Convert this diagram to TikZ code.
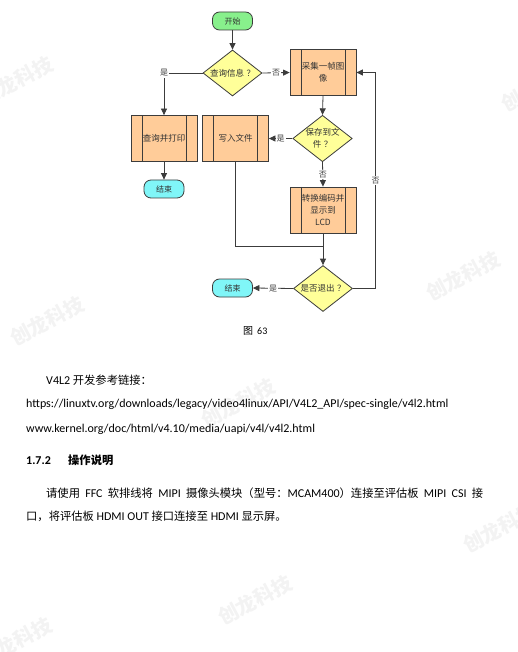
\documentclass[tikz,border=0pt]{standalone}
\usepackage{fontspec}
\setmainfont{Carlito}
\newfontfamily\cjk[Scale=0.94]{Noto Sans CJK SC}
\newfontfamily\cjkf{Noto Sans CJK SC}
\usetikzlibrary{shapes.geometric,arrows.meta}
\definecolor{lnc}{HTML}{3C3C3C}
\definecolor{gfill}{HTML}{88F08C}
\definecolor{cfill}{HTML}{80F6F8}
\definecolor{ofill}{HTML}{FFCC99}
\definecolor{yfill}{HTML}{FFFF99}
\definecolor{wmc}{HTML}{F3F3F3}
\newcommand{\qm}{\hspace{2.5pt}？}
\tikzset{
 term/.style={rectangle, rounded corners=7pt, draw=lnc, line width=0.8pt, minimum width=40pt, minimum height=18pt, inner sep=0pt, font=\cjkf\fontsize{8}{9}\selectfont, text=black!80},
 dec/.style={diamond, draw=lnc, line width=0.8pt, fill=yfill, minimum width=59pt, minimum height=46pt, inner sep=0pt, aspect=1.28, align=center, font=\cjkf\fontsize{8.5}{12}\selectfont, text=black!80},
 proc/.style={rectangle, draw=lnc, line width=0.8pt, fill=ofill, minimum width=66pt, minimum height=46pt, inner sep=0pt, align=center, font=\cjkf\fontsize{8.5}{12}\selectfont, text=black!80,
   path picture={\draw[lnc,line width=0.8pt] ([xshift=11pt]path picture bounding box.north west) -- ([xshift=11pt]path picture bounding box.south west) ([xshift=-11pt]path picture bounding box.north east) -- ([xshift=-11pt]path picture bounding box.south east);}},
 line/.style={draw=lnc, line width=0.8pt},
 arr/.style={line, -{Triangle[length=6.5pt,width=6pt]}},
 lab/.style={fill=white, inner sep=1pt, font=\cjkf\fontsize{8}{9}\selectfont, text=black!75},
 txt/.style={anchor=base west, inner sep=0pt, font=\fontsize{12}{14}\selectfont},
 wm/.style={font=\cjkf\bfseries\fontsize{20}{20}\selectfont, text=wmc, rotate=28, inner sep=0pt},
}
\begin{document}
\begin{tikzpicture}[x=1pt,y=-1pt]
\fill[white] (0,0) rectangle (518,652);
\useasboundingbox (0,0) rectangle (518,652);
% watermarks
\node[wm] (w1) at (16,81) {创龙科技};
\node[wm] (w2) at (538,87) {创龙科技};
\node[wm] (w3) at (47,321) {创龙科技};
\node[wm] (w4) at (463,276) {创龙科技};
\node[wm] (w5) at (238,403) {创龙科技};
\node[wm] (w6) at (500,528) {创龙科技};
\node[wm] (w7) at (255,600) {创龙科技};
\node[wm] (w8) at (15,642) {创龙科技};
% flowchart
\node[term, fill=gfill] (start) at (232.5,21) {开始};
\node[dec] (q1) at (232.5,73) {查询信息\qm};
\node[proc] (cap) at (323,72.5) {采集一帧图\\像};
\node[proc] (print) at (164,138.5) {查询并打印};
\node[proc] (write) at (235.5,138.5) {写入文件};
\node[dec] (q2) at (322.5,138.5) {保存到文\\件\qm};
\node[term, fill=cfill] (end1) at (164,189) {结束};
\node[proc] (lcd) at (323,210) {转换编码并\\显示到\\LCD};
\node[dec] (q3) at (323,288.5) {是否退出\qm};
\node[term, fill=cfill] (end2) at (232.5,288) {结束};
\coordinate (jn) at (323,246);
\coordinate (rt) at (375.7,288.5);
\draw[arr] (start) -- (q1);
\draw[arr] (q1.east) -- node[lab]{否} (cap.west);
\draw[arr] (q1.west) -| node[lab]{是} (print.north);
\draw[arr] (cap.south) -- (q2.north);
\draw[arr] (q2.west) -- node[lab]{是} (write.east);
\draw[arr] (print.south) -- (end1.north);
\draw[arr] (q2.south) -- node[lab]{否} (lcd.north);
\draw[line] (write.south) |- (jn);
\draw[arr] (lcd.south) -- (q3.north);
\draw[arr] (q3.west) -- node[lab]{是} (end2.east);
\draw[arr] (q3.east) -- (rt) |- node[lab,pos=0.25]{否} (cap.east);
% caption
\node[anchor=base west, inner sep=0pt, font=\fontsize{10}{12}\selectfont] (cap63) at (243,334) {{\cjkf 图}\hspace{4pt}63};
% body text
\node[txt] (t1) at (46,384) {V4L2 {\cjk 开发参考链接：}};
\node[txt] (t2) at (26,407) {https://linuxtv.org/downloads/legacy/video4linux/API/V4L2\_API/spec-single/v4l2.html};
\node[txt] (t3) at (26,432) {www.kernel.org/doc/html/v4.10/media/uapi/v4l/v4l2.html};
\node[txt, font=\bfseries\fontsize{12}{14}\selectfont] (h1) at (26,464) {1.7.2};
\node[txt, font=\cjk\bfseries\fontsize{12}{14}\selectfont] (h2) at (68,464) {操作说明};
\node[txt] (p1) at (46,497) {\makebox[437pt][s]{{\cjk 请使用} FFC {\cjk 软排线将} MIPI {\cjk 摄像头模块（型号：}MCAM400{\cjk ）连接至评估板} MIPI CSI {\cjk 接}}};
\node[txt] (p2) at (26,520) {{\cjk 口，将评估板} HDMI OUT {\cjk 接口连接至} HDMI {\cjk 显示屏。}};
\end{tikzpicture}
\end{document}
